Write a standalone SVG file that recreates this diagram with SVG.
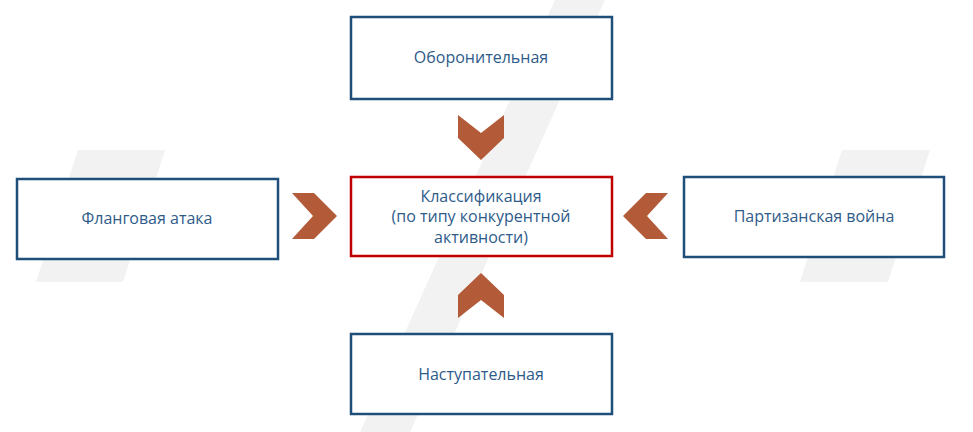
<svg xmlns="http://www.w3.org/2000/svg" width="973" height="432" viewBox="0 0 973 432">
<style>
.box{fill:#fff;stroke:#1f4e79;stroke-width:2.5}
.main{fill:#fff;stroke:#c00000;stroke-width:2.5}
.t{font-family:"Open Sans","Noto Sans",sans-serif;font-size:16px;fill:#2e5b8a;text-anchor:middle}
.ch{fill:#b35a38}
.bg{fill:#f2f2f2}
</style>
<rect width="973" height="432" fill="#fff"/>
<g id="background">
<polygon class="bg" points="555,0 605,0 410,432 360,432"/>
<polygon class="bg" points="78,150 165,150 123,282 36,282"/>
<polygon class="bg" points="842,150 930,150 888,282 800,282"/>
</g>
<g id="connectors">
<polygon class="ch" points="458,115 481,133 504,115 504,138 481,160 458,138"/>
<polygon class="ch" points="458,318 481,300 504,318 504,295 481,273 458,295"/>
<polygon class="ch" points="292,193 314,193 337,216 314,239 292,239 313,216"/>
<polygon class="ch" points="668,193 646,193 623,216 646,239 668,239 647,216"/>
</g>
<g id="top"><rect class="box" x="351" y="17" width="261" height="82"/><text class="t" x="481" y="63">Оборонительная</text></g>
<g id="center"><rect class="main" x="351" y="177" width="261" height="79"/>
<text class="t" x="481" y="202">Классификация</text><text class="t" x="481" y="222">(по типу конкурентной</text><text class="t" x="481" y="243">активности)</text></g>
<g id="left"><rect class="box" x="17" y="179" width="261" height="80"/><text class="t" x="147" y="224">Фланговая атака</text></g>
<g id="right"><rect class="box" x="684" y="177" width="260" height="80"/><text class="t" x="814" y="222">Партизанская война</text></g>
<g id="bottom"><rect class="box" x="351" y="334" width="261" height="80"/><text class="t" x="481" y="380">Наступательная</text></g>
</svg>
